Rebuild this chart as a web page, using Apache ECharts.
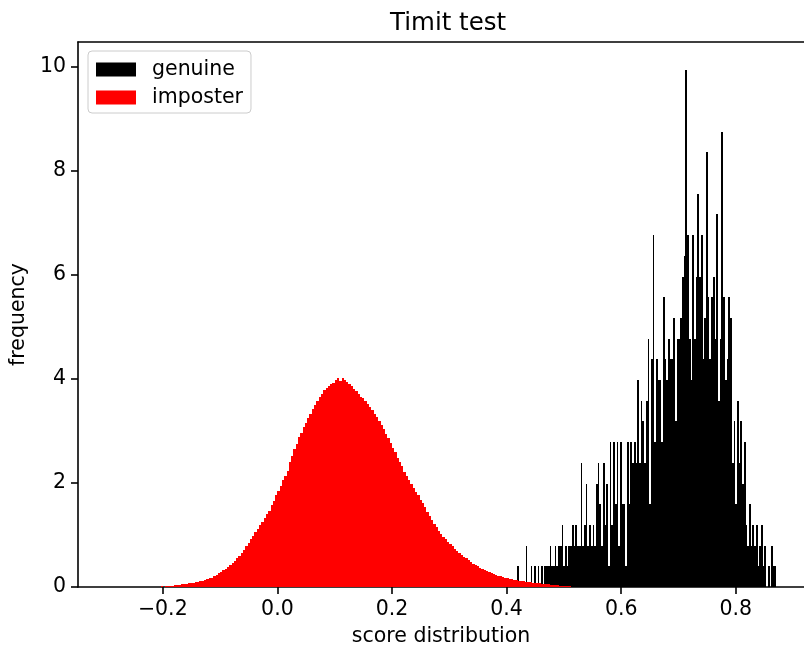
<!DOCTYPE html>
<html><head><meta charset="utf-8">
<script src="https://cdn.jsdelivr.net/npm/echarts@6/dist/echarts.min.js"></script>
<style>html,body{margin:0;padding:0;background:#fff}#c{width:804px;height:652px}</style>
</head><body><div id="c"></div>
<script>
const titleText = 'Timit test';
const xLabel = 'score distribution';
const yLabel = 'frequency';
const seriesNames = ['genuine', 'imposter'];
const xTicks = [-0.2, 0, 0.2, 0.4, 0.6, 0.8];
const yTicks = [0, 2, 4, 6, 8, 10];

// genuine histogram: bin start, bin width, density of one count, counts per bin
const genuineStart = 0.418;
const genuineBinWidth = 0.003;
const genuineUnit = 0.398;
const genuineCounts = [
  1,0,0,0,0,2,0,0,1,0,
  1,0,1,0,1,0,1,1,1,2,
  1,1,2,1,2,2,3,1,2,1,
  2,2,3,2,3,2,2,6,2,3,
  5,2,3,2,3,2,5,6,4,2,
  6,3,5,1,7,3,7,4,7,2,
  7,4,4,1,7,4,7,6,7,6,
  10,6,9,8,6,9,12,4,11,17,
  7,11,10,10,7,14,11,10,12,11,
  11,13,8,12,12,13,15,16,25,17,
  12,10,17,12,15,19,15,17,11,13,
  21,14,11,14,15,12,18,9,12,22,
  14,10,11,14,13,6,8,4,9,6,
  8,5,7,3,2,4,2,3,2,3,
  1,2,3,1,2,0,1,0,2,1,
  1
];

// imposter histogram: bin start, bin width, density per bin
const imposterStart = -0.22;
const imposterBinWidth = 0.004;
const imposterDensity = [
  0.00,0.00,0.005,0.005,0.01,0.005,0.01,0.01,0.015,0.02,
  0.03,0.03,0.04,0.05,0.05,0.06,0.07,0.07,0.08,0.09,
  0.10,0.11,0.12,0.13,0.15,0.17,0.18,0.21,0.23,0.27,
  0.29,0.32,0.35,0.38,0.42,0.46,0.50,0.55,0.60,0.66,
  0.72,0.79,0.85,0.92,0.99,1.05,1.12,1.19,1.25,1.33,
  1.40,1.47,1.57,1.66,1.76,1.84,1.95,2.05,2.13,2.24,
  2.40,2.52,2.65,2.75,2.88,2.97,3.07,3.16,3.25,3.32,
  3.43,3.50,3.58,3.66,3.72,3.78,3.82,3.87,3.90,3.93,
  3.98,4.02,3.97,4.01,3.99,3.95,3.90,3.86,3.80,3.76,
  3.72,3.66,3.63,3.58,3.51,3.46,3.40,3.33,3.27,3.20,
  3.12,3.03,2.95,2.86,2.77,2.68,2.59,2.49,2.41,2.32,
  2.22,2.13,2.05,1.98,1.90,1.82,1.76,1.68,1.61,1.53,
  1.44,1.37,1.29,1.21,1.15,1.08,1.02,0.97,0.92,0.87,
  0.83,0.78,0.74,0.69,0.66,0.62,0.58,0.55,0.51,0.48,
  0.45,0.43,0.40,0.37,0.35,0.32,0.30,0.28,0.27,0.25,
  0.24,0.22,0.21,0.19,0.18,0.17,0.16,0.15,0.14,0.13,
  0.12,0.12,0.11,0.10,0.10,0.09,0.08,0.08,0.07,0.07,
  0.06,0.06,0.05,0.05,0.04,0.04,0.03,0.03,0.02,0.02,
  0.015,0.01,0.01,0.005
];

const genuineData = genuineCounts.map((c, i) => [
  genuineStart + i * genuineBinWidth,
  genuineStart + (i + 1) * genuineBinWidth,
  c * genuineUnit
]).filter(d => d[2] > 0);
const imposterData = imposterDensity.map((v, i) => [
  imposterStart + i * imposterBinWidth,
  imposterStart + (i + 1) * imposterBinWidth,
  v
]).filter(d => d[2] > 0);

const FONT = 'DejaVu Sans';

function renderBar(params, api) {
  const p0 = api.coord([api.value(0), api.value(2)]);
  const p1 = api.coord([api.value(1), 0]);
  const x0 = Math.round(p0[0]);
  let x1 = Math.round(p1[0]);
  if (x1 <= x0) x1 = x0 + 1;
  const y0 = Math.round(p0[1]);
  const y1 = p1[1];
  const c = api.visual('color');
  return {
    type: 'rect',
    shape: { x: x0, y: y0, width: x1 - x0, height: y1 - y0 },
    style: { fill: c }
  };
}

const chart = echarts.init(document.getElementById('c'), null, { renderer: 'canvas' });
chart.setOption({
  animation: false,
  backgroundColor: '#ffffff',
  title: {
    text: titleText, left: 385, top: 6,
    textStyle: { fontFamily: FONT, fontSize: 24.5, fontWeight: 'normal', color: '#000' }
  },
  legend: {
    orient: 'vertical', left: 88, top: 51,
    itemWidth: 40, itemHeight: 14, itemGap: 7,
    padding: [8, 8, 5, 8],
    backgroundColor: 'rgba(255,255,255,0.8)',
    borderColor: '#cccccc', borderWidth: 1, borderRadius: 4,
    textStyle: { fontFamily: FONT, fontSize: 20.5, color: '#000', padding: [0, 0, 0, 11] },
    data: [{ name: seriesNames[0], icon: 'rect' }, { name: seriesNames[1], icon: 'rect' }]
  },
  grid: { left: 77, right: -5, top: 42, bottom: 65, containLabel: false },
  xAxis: [{
    type: 'value', min: -0.348, max: 0.919,
    name: xLabel, nameLocation: 'middle', nameGap: 39,
    nameTextStyle: { fontFamily: FONT, fontSize: 20.5, color: '#000' },
    axisLine: { show: true, onZero: false, lineStyle: { color: '#000', width: 1.6 } },
    axisTick: { show: true, length: 7, customValues: xTicks, lineStyle: { color: '#000', width: 1.6 } },
    axisLabel: {
      customValues: xTicks, margin: 12,
      fontFamily: FONT, fontSize: 20.5, color: '#000',
      formatter: v => (v < 0 ? '\u2212' : '') + Math.abs(v).toFixed(1)
    },
    splitLine: { show: false }
  }, {
    type: 'value', position: 'top', min: -0.348, max: 0.919,
    axisLine: { show: true, onZero: false, lineStyle: { color: '#000', width: 1.6 } },
    axisTick: { show: false }, axisLabel: { show: false }, splitLine: { show: false }
  }],
  yAxis: {
    type: 'value', min: 0, max: 10.48, position: 'left',
    name: yLabel, nameLocation: 'middle', nameGap: 46,
    nameTextStyle: { fontFamily: FONT, fontSize: 20.5, color: '#000' },
    axisLine: { show: true, onZero: false, lineStyle: { color: '#000', width: 1.6 } },
    axisTick: { show: true, length: 7, customValues: yTicks, lineStyle: { color: '#000', width: 1.6 } },
    axisLabel: {
      customValues: yTicks, margin: 12,
      fontFamily: FONT, fontSize: 20.5, color: '#000',
      formatter: v => String(v)
    },
    splitLine: { show: false }
  },
  series: [{
    name: seriesNames[0], type: 'custom', renderItem: renderBar,
    itemStyle: { color: '#000000' },
    encode: { x: [0, 1], y: 2 }, data: genuineData, clip: true
  }, {
    name: seriesNames[1], type: 'custom', renderItem: renderBar,
    itemStyle: { color: '#ff0000' },
    encode: { x: [0, 1], y: 2 }, data: imposterData, clip: true
  }]
});
</script>
</body></html>
